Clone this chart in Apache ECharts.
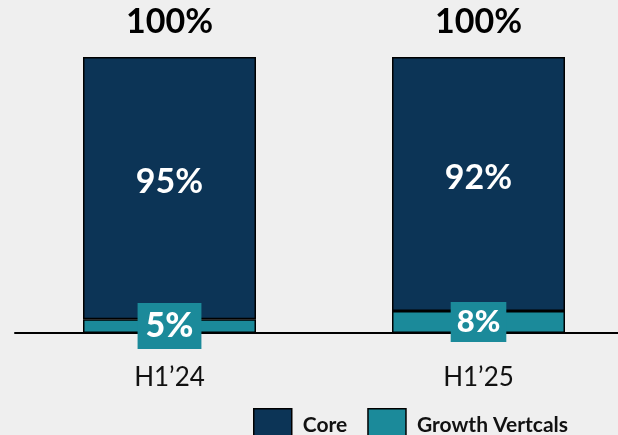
<!DOCTYPE html>
<html><head><meta charset="utf-8">
<script src="https://cdn.jsdelivr.net/npm/echarts@6/dist/echarts.min.js"></script>
<style>html,body{margin:0;padding:0;background:#efefef;}#c{width:618px;height:435px;}</style>
</head><body><div id="c"></div>
<script>
const categories = ["H1\u201924", "H1\u201925"];
const coreValues = [95, 92];
const growthValues = [5, 8];
const totalValues = [100, 100];
const seriesNames = ["Core", "Growth Vertcals"];

const chart = echarts.init(document.getElementById('c'));
const font = 'Lato';
chart.setOption({
  backgroundColor: '#efefef',
  animation: false,
  grid: { left: 15, top: 57, width: 618, height: 276, outerBoundsMode: 'none', containLabel: false },
  legend: {
    data: seriesNames, left: 248, top: 403, itemWidth: 38, itemHeight: 32, itemGap: 20,
    icon: 'rect',
    itemStyle: { borderColor: '#000', borderWidth: 1.5 },
    textStyle: { fontFamily: font, fontSize: 21, fontWeight: 'bold', color: '#111', padding: [0, 0, 0, 6] }
  },
  xAxis: {
    type: 'category', data: categories,
    axisLine: { lineStyle: { color: '#000', width: 2 } },
    axisTick: { show: false },
    axisLabel: { fontFamily: font, fontSize: 26, color: '#111', margin: 32 }
  },
  yAxis: { type: 'value', min: 0, max: 100, show: false, splitLine: { show: false } },
  series: [
    {
      name: seriesNames[1], type: 'bar', stack: 's', barWidth: 173,
      data: growthValues.map((v, i) => ({ value: v, label: { fontSize: i === 0 ? 34 : 31, padding: i === 0 ? [7, 8, 5, 8] : [5, 6, 4, 6] } })),
      itemStyle: { color: '#1b8a9a', borderColor: '#000', borderWidth: 1.5 },
      label: { show: true, position: 'inside', formatter: '{c}%', color: '#fff', backgroundColor: '#1b8a9a',
        fontFamily: font, fontWeight: 900 },
      z: 3
    },
    {
      name: seriesNames[0], type: 'bar', stack: 's', barWidth: 173, data: coreValues,
      itemStyle: { color: '#0c3456', borderColor: '#000', borderWidth: 1.5 },
      label: { show: true, position: 'inside', offset: [0, -6], formatter: '{c}%', color: '#fff',
        fontFamily: font, fontSize: 34, fontWeight: 'bold' }
    },
    {
      name: 'Total', type: 'bar', barGap: '-100%', barWidth: 173, data: totalValues,
      itemStyle: { color: 'rgba(0,0,0,0)' }, z: 0, silent: true,
      label: { show: true, position: 'top', distance: 18, formatter: '{c}%', color: '#000',
        fontFamily: font, fontSize: 34, fontWeight: 'bold' }
    }
  ]
});
</script></body></html>
